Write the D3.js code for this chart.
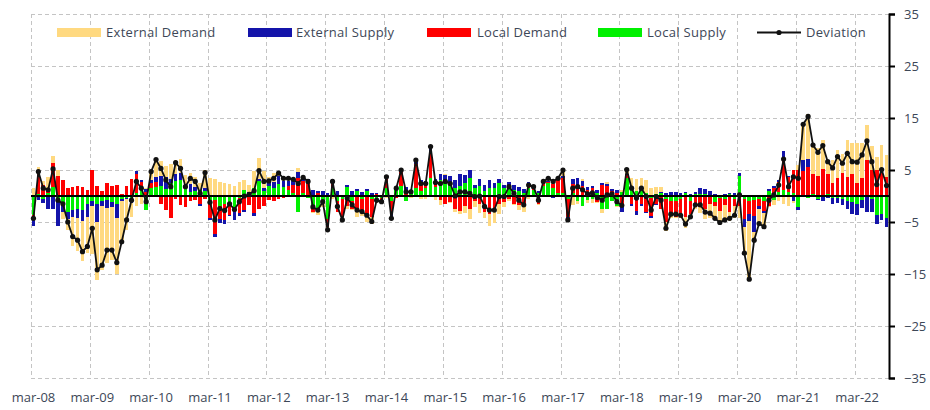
<!DOCTYPE html>
<html>
<head>
<meta charset="utf-8">
<script src="https://cdn.jsdelivr.net/npm/d3@7"></script>
<style>
  html, body { margin: 0; padding: 0; background: #ffffff; }
  svg { display: block; }
  text { font-family: "Open Sans", "DejaVu Sans", sans-serif; }
</style>
</head>
<body>
<svg id="chart" width="930" height="410"></svg>
<script>
// Monthly decomposition, Mar 2008 – Sep 2022
const firstMonth = new Date(2008, 2, 1);
const monthCount = 175;

const tickLabels = ["mar-08","mar-09","mar-10","mar-11","mar-12","mar-13","mar-14",
  "mar-15","mar-16","mar-17","mar-18","mar-19","mar-20","mar-21","mar-22"];
const yTicks = [35, 25, 15, 5, -5, -15, -25, -35];

const seriesNames = ["External Demand", "External Supply", "Local Demand", "Local Supply"];
const seriesColors = ["#FFD980", "#1414AA", "#FF0000", "#00F000"];

const externalDemand = [
  1.5, 1.0, 0.6, 2.4, 1.4, 1.2, -1.5, -2.0, -5.6, -6.2, -7.7, -6.9,
  -9.2, -11.2, -12.3, -10.6, -10.2, -10.7, -8.2, -6.0, -2.7, -2.0, -1.6, 0.3,
  1.7, 3.4, 3.0, 2.2, 2.8, 2.6, 2.6, 1.7, 2.1, 1.8, 1.3, 3.5,
  3.4, 3.3, 2.7, 2.5, 2.4, 2.0, 2.7, 1.8, 1.4, 3.4, 4.1, 3.2,
  1.1, 1.8, 1.0, 1.0, 0.6, 0.4, 0.7, 0.2, -0.1, -0.3, -0.7, -0.8,
  -1.0, -0.5, 0.0, -0.8, -0.5, -0.2, -1.0, -0.8, -1.2, -1.3, -0.7, -0.5,
  -0.4, 0.0, 0.0, -0.2, 0.0, -0.4, 0.2, -0.6, -0.5, 0.0, -0.7, -1.0,
  0.3, -0.2, -0.5, -0.6, -1.2, -2.0, -1.2, -1.7, -1.2, -2.2, -2.4, -1.9,
  -1.0, -0.4, -0.2, -0.8, -1.0, -0.5, -0.2, -0.3, 0.2, 0.5, 0.8, 0.2,
  1.2, 0.0, -1.8, -0.6, 0.4, -0.5, -0.8, -0.2, -0.8, 0.3, 0.1, -0.2,
  0.4, 0.9, 1.5, 2.2, 2.2, 2.6, 1.6, 1.4, 1.0, -1.7, -0.7, -0.3,
  -0.3, -2.2, -0.8, -0.7, -1.1, -1.9, -2.8, -2.7, -2.5, -3.2, -1.8, -2.2,
  -2.2, -5.0, -11.2, -1.5, -2.8, -2.7, -0.1, -1.0, -1.0, -1.5, -2.0, -0.3,
  1.0, 6.8, 8.5, 5.5, 5.4, 5.5, 2.6, 4.4, 5.4, 3.5, 7.0, 5.9,
  7.7, 6.7, 6.7, 4.6, 2.5, 5.3, 4.2
];

const externalSupply = [
  -1.2, -0.8, -0.8, -2.5, -2.5, -4.8, -1.5, -1.5, -1.3, -1.8, -2.2, -2.5,
  -1.0, -3.5, -1.0, -1.5, -1.0, -2.8, -0.3, -0.2, -0.3, 0.5, 0.5, 0.5,
  0.5, 1.0, 1.8, 2.3, 0.8, 1.5, 1.5, 0.8, 1.5, 0.8, -0.5, 0.5,
  -0.3, -0.6, -0.6, -0.6, -0.3, -1.7, -0.5, -0.3, 0.2, -0.6, 0.5, 0.6,
  0.6, 1.0, 1.5, 1.0, 0.8, 0.7, 1.2, 0.5, 0.6, 1.2, 0.5, 1.0,
  0.5, 0.8, 1.0, 0.2, 0.3, 1.0, 0.3, 0.8, 0.3, 0.5, 0.2, 0.2,
  0.8, -1.0, 0.3, 0.6, 0.6, 0.5, 0.6, 0.5, 0.8, 1.5, 1.0, 1.2,
  1.5, 1.6, 1.5, 2.2, 1.5, 1.5, 0.6, 1.2, 1.2, 1.5, 1.0, 0.8,
  0.6, 1.2, 1.0, 0.8, 0.8, 0.8, 0.6, 0.5, 0.3, 0.2, -0.3, 0.2,
  0.3, -0.6, 1.0, 1.2, 0.8, 0.5, 0.4, 0.6, 0.3, 0.4, 0.3, 0.6,
  -1.0, 0.2, -0.5, -0.8, -0.3, -0.2, -0.5, -0.3, 0.2, 0.5, 0.8, 0.8,
  0.6, 0.3, 0.3, 0.5, 1.2, 1.0, 0.8, 0.4, 0.2, 0.3, 0.2, 0.5,
  0.6, -1.5, -1.3, -3.2, -0.5, -0.4, 0.3, 0.5, 0.5, 1.6, 0.2, -1.0,
  -0.4, 2.2, 1.6, 0.0, -0.3, -1.0, -0.3, -1.2, -1.0, -1.2, -1.5, -2.3,
  -2.2, -1.5, -3.0, -2.5, -1.6, -1.2, -1.6
];

const localDemand = [
  -1.0, 4.2, 2.2, 0.8, 4.5, 3.8, 3.0, 1.5, 1.8, 2.0, 1.8, 1.2,
  5.0, 2.0, 1.0, 2.5, 2.0, 2.2, 0.3, 2.0, 3.2, 3.8, 0.8, 0.8,
  1.0, 0.8, -1.5, -2.7, -4.3, -0.5, -1.8, -2.2, -1.0, -0.8, -1.5, -0.5,
  -3.5, -6.5, -2.5, -3.2, -2.4, -0.3, -3.0, -2.7, -1.8, -3.3, -2.5, -2.0,
  -0.8, -1.0, -0.5, -0.4, 0.8, 1.5, 3.5, 2.4, 2.6, -0.5, 0.5, -0.5,
  -1.5, 1.0, -2.0, -3.5, -2.0, -1.5, -3.0, -2.5, -3.8, -3.6, 0.3, -0.5,
  1.8, -2.3, -0.3, 2.6, 1.2, 0.2, 4.6, 1.5, 0.6, 4.5, 0.5, -0.8,
  -1.5, -1.2, -2.5, -2.8, -2.0, -2.5, -1.0, -1.5, -3.0, -3.5, -2.8, -1.5,
  -1.2, -0.5, -1.5, -1.8, -2.0, 0.3, 0.2, -1.5, 0.3, 0.2, 0.8, 2.5,
  3.0, -3.5, 1.8, 2.2, 2.0, 1.2, 1.5, -1.2, 2.2, 2.0, 1.0, 0.5,
  -2.0, 0.5, -1.5, -2.8, -1.6, -3.0, -3.5, -1.5, -2.5, -4.5, -2.6, -3.0,
  -3.5, -4.0, -2.5, -1.8, -2.2, -2.5, -1.5, -0.8, -2.5, -1.2, -3.0, -1.5,
  -2.0, -4.0, -2.5, -3.0, -1.5, -1.8, -2.0, 1.5, 1.8, 5.8, 2.8, 4.5,
  5.0, 4.8, 5.6, 4.0, 3.8, 5.0, 4.0, 2.5, 3.5, 4.5, 3.7, 4.2,
  2.5, 3.5, 6.9, 5.0, 5.0, 4.5, 3.7
];

const localSupply = [
  -3.6, 0.3, -0.5, 0.5, 1.8, -1.0, -1.5, -3.0, -2.7, -2.5, -2.6, -1.5,
  -1.0, -1.5, -1.0, -0.8, -1.2, -1.5, -0.6, -0.4, -1.0, 0.5, 1.8, -2.7,
  1.5, 1.8, 2.0, 1.3, 2.5, 2.8, 3.0, 1.5, 0.8, 1.0, 1.2, 1.0,
  -0.8, -0.8, -2.0, -1.5, -1.2, -2.6, -0.3, 1.2, 0.5, 1.5, 2.8, 1.0,
  2.0, 1.6, 2.4, 1.8, 1.2, 0.6, -3.0, 0.5, -0.3, -2.5, -3.0, -0.8,
  -4.5, 1.5, -1.0, -0.5, 1.8, -1.0, 1.0, -0.5, 1.0, -0.5, -0.6, -0.3,
  1.5, -1.0, 1.5, 2.0, -1.0, 0.5, 1.5, 1.0, 1.5, 3.5, 1.8, 3.0,
  2.5, 2.2, 1.5, 2.0, 2.5, 3.5, 1.5, 2.0, 1.0, 1.5, 1.5, 2.5,
  1.5, 1.5, 1.2, 1.0, 0.5, 1.5, 1.2, 0.5, 2.0, 2.5, 1.5, 0.5,
  0.5, -0.5, 0.5, -1.0, -2.0, -0.8, -0.5, 0.5, -2.5, -2.5, -1.0, -2.0,
  0.8, 3.5, 2.0, 1.0, 1.2, 0.5, -0.3, 0.3, 0.5, -0.5, -1.0, -1.0,
  -0.5, 0.5, -1.0, 0.3, 0.4, 0.3, 0.2, -1.2, -0.3, -0.5, 0.3, -0.5,
  3.8, -0.5, -1.0, -0.8, -0.5, -1.0, 1.0, -0.8, 0.8, 1.2, 0.8, 0.5,
  -2.2, 0.0, -0.4, 0.3, -0.5, 0.2, 0.3, -0.3, -0.3, -0.5, -1.0, -1.2,
  -1.5, -0.8, 0.0, -0.5, -3.7, -3.5, -4.3
];

const deviation = [
  -4.3, 4.7, 1.5, 1.2, 5.2, -0.8, -1.5, -5.0, -7.8, -8.5, -10.7, -9.7,
  -6.2, -14.2, -13.3, -10.4, -10.4, -12.8, -8.8, -4.6, -0.8, 2.8, 1.5, -1.1,
  4.7, 7.0, 5.3, 3.1, 1.8, 6.4, 5.3, 1.8, 3.4, 2.8, 0.5, 4.5,
  -1.2, -4.6, -2.4, -2.8, -1.5, -2.6, -1.1, 0.0, 0.3, 1.0, 4.9, 2.8,
  2.9, 3.4, 4.4, 3.4, 3.4, 3.2, 2.4, 3.6, 2.8, -2.1, -2.7, -1.1,
  -6.5, 2.8, -2.0, -4.6, -0.4, -1.7, -2.7, -3.0, -3.7, -4.9, -0.8, -1.1,
  3.7, -4.3, 1.5, 5.0, 0.8, 0.8, 6.9, 2.4, 2.4, 9.5, 2.6, 2.4,
  2.8, 2.4, 0.0, 0.8, 0.8, 0.5, -0.1, 0.0, -2.0, -2.7, -2.7, -0.1,
  -0.1, 1.8, 0.5, -0.8, -1.7, 2.1, 1.8, -0.8, 2.8, 3.4, 2.8, 3.4,
  5.0, -4.6, 1.5, 1.8, 1.2, 0.4, 0.6, -0.3, -0.8, 0.2, 0.4, -1.1,
  -1.8, 5.1, 1.5, -0.4, 1.5, -0.1, -2.7, -0.1, -0.8, -6.2, -3.5, -3.5,
  -3.7, -5.4, -4.0, -1.7, -1.7, -3.1, -3.3, -4.3, -5.1, -4.6, -4.3, -3.7,
  0.2, -11.0, -16.0, -8.5, -5.3, -5.9, -0.8, 0.2, 2.1, 7.1, 1.8, 3.7,
  3.4, 13.8, 15.3, 9.8, 8.4, 9.7, 6.6, 5.4, 7.6, 6.3, 8.2, 6.6,
  6.5, 7.9, 10.6, 6.6, 2.2, 5.1, 2.0
];

// ---- table built from the arrays above ----
const months = d3.range(monthCount).map(i => d3.timeMonth.offset(firstMonth, i));
const fmt = d3.timeFormat("%b-%y");
const rows = months.map((m, i) => ({
  i,
  label: fmt(m).toLowerCase(),
  ls: localSupply[i], ld: localDemand[i], es: externalSupply[i], ed: externalDemand[i],
  dev: deviation[i]
}));

// stacking order outward from zero: Local Supply, Local Demand, External Supply, External Demand
const keys = ["ls", "ld", "es", "ed"];
const keyColor = { ed: seriesColors[0], es: seriesColors[1], ld: seriesColors[2], ls: seriesColors[3] };
const stacked = d3.stack().keys(keys).offset(d3.stackOffsetDiverging)(rows);

// ---- layout ----
const plot = { left: 31, right: 889, top: 14, bottom: 378 };
const svg = d3.select("#chart");

const x = d3.scaleBand()
  .domain(rows.map(d => d.i))
  .range([plot.left, plot.right])
  .paddingInner(0.26)
  .paddingOuter(0.13);
const step = x.step();
const cx = i => x(i) + x.bandwidth() / 2;
const edge = i => cx(i) - step / 2;

const y = d3.scaleLinear().domain([-35, 35]).range([plot.bottom, plot.top]);

// gridlines
const grid = svg.append("g").attr("class", "grid")
  .attr("stroke", "#c4c4c4").attr("stroke-width", 1).attr("stroke-dasharray", "4,3")
  .attr("shape-rendering", "crispEdges");
grid.selectAll("line.h").data(yTicks).join("line").attr("class", "h")
  .attr("x1", plot.left).attr("x2", plot.right)
  .attr("y1", d => Math.round(y(d)) + 0.5).attr("y2", d => Math.round(y(d)) + 0.5);
const labelIdx = tickLabels.map((t, k) => k * 12);
grid.selectAll("line.v").data(labelIdx).join("line").attr("class", "v")
  .attr("y1", plot.top).attr("y2", plot.bottom)
  .attr("x1", d => Math.round(edge(d)) + 0.5).attr("x2", d => Math.round(edge(d)) + 0.5);

// stacked bars
const bars = svg.append("g").attr("class", "bars").attr("shape-rendering", "crispEdges");
bars.selectAll("g").data(stacked).join("g")
  .attr("fill", s => keyColor[s.key])
  .selectAll("rect").data(s => s).join("rect")
  .attr("x", d => x(d.data.i))
  .attr("width", x.bandwidth())
  .attr("y", d => y(Math.max(d[0], d[1])))
  .attr("height", d => Math.abs(y(d[0]) - y(d[1])));

// zero line
svg.append("line")
  .attr("x1", plot.left).attr("x2", plot.right)
  .attr("y1", y(0)).attr("y2", y(0))
  .attr("stroke", "#000").attr("stroke-width", 2);

// deviation line + markers
const line = d3.line().x(d => cx(d.i)).y(d => y(d.dev));
svg.append("path").datum(rows)
  .attr("d", line).attr("fill", "none")
  .attr("stroke", "#111").attr("stroke-width", 1.8).attr("stroke-linejoin", "round");
svg.append("g").selectAll("circle").data(rows).join("circle")
  .attr("cx", d => cx(d.i)).attr("cy", d => y(d.dev)).attr("r", 2.6)
  .attr("fill", "#111");

// right value axis
const yAxis = d3.axisRight(y).tickValues(yTicks).tickSize(6).tickPadding(9)
  .tickFormat(d3.format("d"));
const ax = svg.append("g").attr("transform", `translate(${plot.right},0)`).call(yAxis);
ax.select(".domain").attr("stroke", "#000").attr("stroke-width", 2);
ax.selectAll(".tick line").attr("stroke", "#000").attr("stroke-width", 2);
ax.selectAll(".tick text").attr("fill", "#3d4757").attr("font-size", 13)
  .attr("font-family", "'Open Sans', sans-serif");

// category labels
svg.append("g").selectAll("text").data(labelIdx).join("text")
  .attr("x", d => cx(d)).attr("y", 402)
  .attr("text-anchor", "middle").attr("font-size", 13).attr("fill", "#3d4757")
  .text((d, k) => tickLabels[k]);

// legend
const legend = svg.append("g").attr("class", "legend");
const legendItems = [
  { name: seriesNames[0], color: seriesColors[0], sx: 57, tx: 106 },
  { name: seriesNames[1], color: seriesColors[1], sx: 248, tx: 296 },
  { name: seriesNames[2], color: seriesColors[2], sx: 427, tx: 477 },
  { name: seriesNames[3], color: seriesColors[3], sx: 598, tx: 647 }
];
legendItems.forEach(it => {
  legend.append("rect").attr("x", it.sx).attr("y", 28).attr("width", 44).attr("height", 9)
    .attr("fill", it.color);
  legend.append("text").attr("x", it.tx).attr("y", 37).attr("font-size", 13)
    .attr("fill", "#3d4757").attr("letter-spacing", 0.3).text(it.name);
});
legend.append("line").attr("x1", 757).attr("x2", 801).attr("y1", 32.5).attr("y2", 32.5)
  .attr("stroke", "#111").attr("stroke-width", 1.8);
legend.append("circle").attr("cx", 779).attr("cy", 32.5).attr("r", 2.6).attr("fill", "#111");
legend.append("text").attr("x", 806).attr("y", 37).attr("font-size", 13)
  .attr("fill", "#3d4757").attr("letter-spacing", 0.3).text("Deviation");
</script>
</body>
</html>
